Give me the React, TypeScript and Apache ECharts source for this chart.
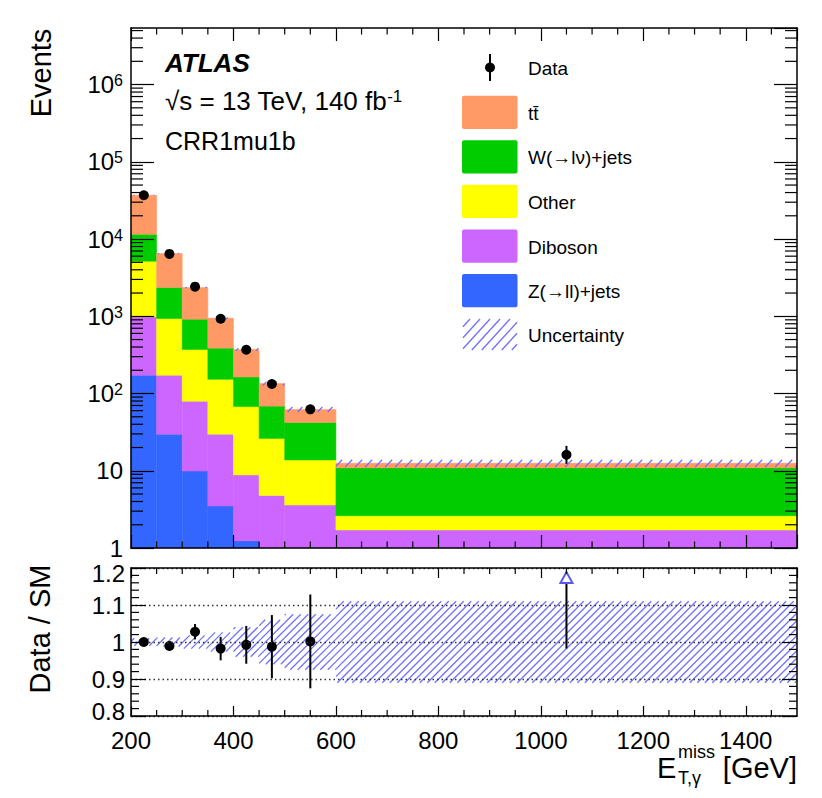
import React, { useEffect, useRef } from "react";
import * as echarts from "echarts";

// ---------------- data ----------------
const binEdges = [200, 250, 300, 350, 400, 450, 500, 600, 1500];
const zJets = [173, 29.8, 9.9, 3.5, 1.24, 0.9, 0.6, 0.3];
const diboson = [809, 143, 69.8, 26.3, 7.6, 3.9, 3.0, 1.41];
const otherBkg = [4178, 763, 292, 123, 59, 21.4, 10.2, 0.91];
const wJets = [6340, 1419, 545, 234, 96, 42.5, 28.5, 8.3];
const ttbar = [25400, 4135, 1438, 558, 208, 66, 20, 1.6];
const dataVals = [36900, 6420, 2420, 928, 369, 133, 62.4, 16.1];
const dataErrLo = [192, 80, 49, 30, 19, 11.5, 7.9, 3.8];
const dataErrHi = [192, 80, 49, 30, 19, 11.5, 7.9, 4.9];
const relUnc = [0.01, 0.012, 0.018, 0.026, 0.04, 0.06, 0.075, 0.11];

const compNames = ["Z(→ll)+jets", "Diboson", "Other", "W(→lν)+jets", "tt\u0304"];
const compColors = ["#3366FF", "#CC66FF", "#FFFF00", "#00CC00", "#FF9966"];
const compValues = [zJets, diboson, otherBkg, wJets, ttbar];

const FONT = '"Liberation Sans", Arial, Helvetica, sans-serif';
const HATCH = "#6f6fff";

// axis limits
const mainYMin = 1;
const mainYMax = 5.4e6;
const ratioMin = 0.8;
const ratioMax = 1.2;

function hatchSegs(x0: number, y0: number, x1: number, y1: number, s: number, k: number) {
  const segs: number[][] = [];
  const umin = x0 + y0 / k;
  const umax = x1 + y1 / k;
  for (let c = Math.ceil(umin / s) * s; c <= umax; c += s) {
    const xa = Math.max(x0, c - y1 / k);
    const xb = Math.min(x1, c - y0 / k);
    if (xb - xa > 0.3) segs.push([xa, k * (c - xa), xb, k * (c - xb)]);
  }
  return segs;
}

function txt(x: number, y: number, text: string, size: number, extra: any = {}) {
  const { align = "left", vAlign = "middle", rotation, weight, italic, rich } = extra;
  const el: any = {
    type: "text",
    x,
    y,
    z: 20,
    style: {
      text,
      fontSize: size,
      fontFamily: FONT,
      fontWeight: weight || "normal",
      fontStyle: italic ? "italic" : "normal",
      fill: "#000",
      textAlign: align,
      textVerticalAlign: vAlign,
      align,
      verticalAlign: vAlign,
    },
  };
  if (rich) el.style.rich = rich;
  if (rotation) el.rotation = rotation;
  return el;
}

export default function App() {
  const ref = useRef<HTMLDivElement>(null);

  useEffect(() => {
    const chart = echarts.init(ref.current!, null, { renderer: "svg" });
    const nb = dataVals.length;
    const centers = binEdges.slice(0, -1).map((e, i) => (e + binEdges[i + 1]) / 2);

    // stacked fills
    const cum = new Array(nb).fill(0);
    const stackSeries = compValues.map((vals, ci) => {
      const items = vals.map((v, i) => {
        const lo = cum[i];
        cum[i] += v;
        return [binEdges[i], binEdges[i + 1], lo > 0 ? lo : 1e-3, cum[i]];
      });
      const color = compColors[ci];
      return {
        type: "custom",
        name: compNames[ci],
        xAxisIndex: 0,
        yAxisIndex: 0,
        z: 2,
        encode: { x: [0, 1], y: [2, 3] },
        data: items,
        renderItem: (params: any, api: any) => {
          const cs = params.coordSys;
          const p0 = api.coord([api.value(0), api.value(3)]);
          const p1 = api.coord([api.value(1), api.value(2)]);
          const yTop = Math.max(p0[1], cs.y);
          const yBot = Math.min(p1[1], cs.y + cs.height);
          if (!(yBot > yTop)) return { type: "group", children: [] };
          return {
            type: "rect",
            shape: { x: p0[0], y: yTop, width: p1[0] - p0[0], height: yBot - yTop },
            style: { fill: color, stroke: color, lineWidth: 0.5 },
          };
        },
      };
    });
    const totals = cum.slice();

    const hatchRender = (s: number, k: number, w: number) => (params: any, api: any) => {
      const cs = params.coordSys;
      const p0 = api.coord([api.value(0), api.value(3)]);
      const p1 = api.coord([api.value(1), api.value(2)]);
      const x0 = Math.max(p0[0], cs.x);
      const x1 = Math.min(p1[0], cs.x + cs.width);
      const y0 = Math.max(p0[1], cs.y);
      const y1 = Math.min(p1[1], cs.y + cs.height);
      const segs = hatchSegs(x0, y0, x1, y1, s, k);
      return {
        type: "group",
        children: segs.map((g) => ({
          type: "line",
          shape: { x1: g[0], y1: g[1], x2: g[2], y2: g[3] },
          style: { stroke: HATCH, lineWidth: w },
        })),
      };
    };

    const uncMain = totals.map((t, i) => [binEdges[i], binEdges[i + 1], t * (1 - relUnc[i]), t * (1 + relUnc[i])]);
    const uncRatio = totals.map((t, i) => [binEdges[i], binEdges[i + 1], 1 - relUnc[i], 1 + relUnc[i]]);

    const dataMain = dataVals.map((v, i) => [centers[i], v, v - dataErrLo[i], v + dataErrHi[i]]);
    const dataRatio = dataVals.map((v, i) => [
      centers[i],
      v / totals[i],
      (v - dataErrLo[i]) / totals[i],
      (v + dataErrHi[i]) / totals[i],
    ]);

    const pointRender = (params: any, api: any) => {
      const cs = params.coordSys;
      const c = api.coord([api.value(0), api.value(1)]);
      const lo = api.coord([api.value(0), api.value(2)]);
      const hi = api.coord([api.value(0), api.value(3)]);
      const top = cs.y;
      const bottom = cs.y + cs.height;
      const children: any[] = [];
      if (c[1] < top) {
        // off-scale point: arrow
        const yl = Math.min(lo[1], bottom);
        children.push({
          type: "line",
          shape: { x1: c[0], y1: yl, x2: c[0], y2: top + 4 },
          style: { stroke: "#000", lineWidth: 2 },
        });
        children.push({
          type: "polygon",
          shape: { points: [[c[0], top + 4], [c[0] - 6, top + 15], [c[0] + 6, top + 15]] },
          style: { fill: "#fff", stroke: "#5a5af0", lineWidth: 2 },
        });
      } else {
        children.push({
          type: "line",
          shape: { x1: c[0], y1: Math.min(lo[1], bottom), x2: c[0], y2: Math.max(hi[1], top) },
          style: { stroke: "#000", lineWidth: 2 },
        });
        children.push({ type: "circle", shape: { cx: c[0], cy: c[1], r: 5 }, style: { fill: "#000" } });
      }
      return { type: "group", children };
    };

    // minor tick positions (axis decoration)
    const xMinor: number[] = [];
    for (let v = 250; v < 1500; v += 50) if (v % 200 !== 0) xMinor.push(v);
    const yMinorLog: number[] = [];
    for (let e = 0; e <= 6; e++) for (let m = 2; m <= 9; m++) {
      const v = m * Math.pow(10, e);
      if (v < mainYMax) yMinorLog.push(v);
    }
    const yMinorRatio: number[] = [];
    for (let j = 41; j < 60; j++) if (j % 5 !== 0) yMinorRatio.push(j / 50);

    const minorRender = (xs: number[], ys: number[], lx: number, ly: number, yRef: number) => (params: any, api: any) => {
      const cs = params.coordSys;
      const L = cs.x, R = cs.x + cs.width, T = cs.y, B = cs.y + cs.height;
      const children: any[] = [];
      const st = { stroke: "#000", lineWidth: 1.2 };
      xs.forEach((v) => {
        const px = api.coord([v, yRef])[0];
        children.push({ type: "line", shape: { x1: px, y1: B, x2: px, y2: B - lx }, style: st });
        children.push({ type: "line", shape: { x1: px, y1: T, x2: px, y2: T + lx }, style: st });
      });
      ys.forEach((v) => {
        const py = api.coord([300, v])[1];
        children.push({ type: "line", shape: { x1: L, y1: py, x2: L + ly, y2: py }, style: st });
        children.push({ type: "line", shape: { x1: R, y1: py, x2: R - ly, y2: py }, style: st });
      });
      return { type: "group", children };
    };

    const axisLineStyle = { color: "#000", width: 1.5 };
    const tickStyle = { color: "#000", width: 1.2 };

    const xAx = (grid: number, pos: string, len: number, labels: boolean) => ({
      gridIndex: grid,
      type: "value",
      min: 200,
      max: 1500,
      interval: 200,
      position: pos,
      z: 5,
      axisLine: { show: true, onZero: false, lineStyle: axisLineStyle },
      axisTick: { show: true, inside: true, length: len, lineStyle: tickStyle },
      axisLabel: labels
        ? {
            show: true,
            fontSize: 24,
            fontFamily: FONT,
            color: "#000",
            margin: 12,
            showMaxLabel: false,
            formatter: (v: number) => String(Math.round(v)),
          }
        : { show: false },
      splitLine: { show: false },
    });

    const logRich = {
      b: { fontSize: 24, fontFamily: FONT, color: "#000" },
      s: { fontSize: 16, fontFamily: FONT, color: "#000", verticalAlign: "top" },
    };
    const logFmt = (v: number) => {
      const e = Math.round(Math.log10(v));
      if (e === 0) return "1";
      if (e === 1) return "10";
      return `{b|10}{s|${e}}`;
    };
    const ratioRich = {
      t: { fontSize: 24, fontFamily: FONT, color: "#000", padding: [10, 0, 0, 0] },
      m: { fontSize: 24, fontFamily: FONT, color: "#000" },
      u: { fontSize: 24, fontFamily: FONT, color: "#000", padding: [0, 0, 10, 0] },
    };
    const ratioFmt = (v: number) => {
      const r = Math.round(v * 10) / 10;
      const s = r === 1 ? "1" : r.toFixed(1);
      if (r >= ratioMax - 1e-9) return `{t|${s}}`;
      if (r <= ratioMin + 1e-9) return `{u|${s}}`;
      return `{m|${s}}`;
    };

    const yMainAx = (pos: string, labels: boolean) => ({
      gridIndex: 0,
      type: "log",
      logBase: 10,
      min: mainYMin,
      max: mainYMax,
      position: pos,
      z: 5,
      axisLine: { show: true, onZero: false, lineStyle: axisLineStyle },
      axisTick: { show: true, inside: true, length: 23, lineStyle: tickStyle },
      axisLabel: labels
        ? { show: true, formatter: logFmt, rich: logRich, fontSize: 24, fontFamily: FONT, color: "#000", margin: 8, showMaxLabel: false }
        : { show: false },
      splitLine: { show: false },
    });
    const yRatioAx = (pos: string, labels: boolean) => ({
      gridIndex: 1,
      type: "value",
      min: ratioMin,
      max: ratioMax,
      interval: 0.1,
      position: pos,
      z: 5,
      axisLine: { show: true, onZero: false, lineStyle: axisLineStyle },
      axisTick: { show: true, inside: true, length: 15, lineStyle: tickStyle },
      axisLabel: labels
        ? { show: true, formatter: ratioFmt, rich: ratioRich, fontSize: 24, fontFamily: FONT, color: "#000", margin: 6 }
        : { show: false },
      splitLine: labels
        ? { show: true, lineStyle: { color: "#333", width: 1.3, type: [1.5, 3] } }
        : { show: false },
    });

    // ---------------- legend & texts (graphic) ----------------
    const graphics: any[] = [];
    const legX = 462, legW = 55.5, legH = 33.3;
    const legTops = [95.7, 140.2, 184.8, 229.4, 274.0];
    for (let j = 0; j < 5; j++) {
      const ci = 4 - j;
      graphics.push({
        type: "rect",
        z: 20,
        shape: { x: legX, y: legTops[j], width: legW, height: legH, r: 2 },
        style: { fill: compColors[ci] },
      });
      graphics.push(txt(528, legTops[j] + legH / 2 + 1, compNames[ci], 19));
    }
    // data legend
    graphics.push({ type: "line", z: 20, shape: { x1: 490, y1: 54, x2: 490, y2: 81 }, style: { stroke: "#000", lineWidth: 2 } });
    graphics.push({ type: "circle", z: 20, shape: { cx: 490, cy: 67.5, r: 5 }, style: { fill: "#000" } });
    graphics.push(txt(528, 68, "Data", 19));
    // uncertainty legend
    hatchSegs(463, 319, 517, 350, 10, 1.1).forEach((g) =>
      graphics.push({ type: "line", z: 20, shape: { x1: g[0], y1: g[1], x2: g[2], y2: g[3] }, style: { stroke: HATCH, lineWidth: 1.3 } })
    );
    graphics.push(txt(528, 335, "Uncertainty", 19));

    // ATLAS label
    graphics.push(txt(165, 63, "ATLAS", 26, { weight: "bold", italic: true }));
    graphics.push(
      txt(165, 101, "{n|√s = 13 TeV, 140 fb}{s|-1}", 26, {
        rich: {
          n: { fontSize: 26, fontFamily: FONT, fill: "#000", color: "#000" },
          s: { fontSize: 17, fontFamily: FONT, fill: "#000", color: "#000", verticalAlign: "top" },
        },
      })
    );
    graphics.push(txt(165, 141, "CRR1mu1b", 25));

    // axis titles
    graphics.push(txt(41, 73, "Events", 29, { align: "center", rotation: Math.PI / 2 }));
    graphics.push(txt(40, 629, "Data / SM", 29, { align: "center", rotation: Math.PI / 2 }));
    graphics.push(txt(657, 767.5, "E", 29));
    graphics.push(txt(678, 752, "miss", 18));
    graphics.push(txt(678, 778, "T,γ", 18));
    graphics.push(txt(797, 767.5, "[GeV]", 29, { align: "right" }));

    const option: any = {
      animation: false,
      backgroundColor: "#fff",
      textStyle: { fontFamily: FONT },
      grid: [
        { left: 131, top: 28, width: 666, height: 520, outerBoundsMode: "none", containLabel: false },
        { left: 131, top: 568, width: 666, height: 148, outerBoundsMode: "none", containLabel: false },
      ],
      xAxis: [xAx(0, "bottom", 13, false), xAx(0, "top", 13, false), xAx(1, "bottom", 10, true), xAx(1, "top", 10, false)],
      yAxis: [yMainAx("left", true), yMainAx("right", false), yRatioAx("left", true), yRatioAx("right", false)],
      series: [
        ...stackSeries,
        {
          type: "custom",
          name: "Uncertainty",
          xAxisIndex: 0,
          yAxisIndex: 0,
          z: 3,
          encode: { x: [0, 1], y: [2, 3] },
          data: uncMain,
          renderItem: hatchRender(10, 1.05, 1.2),
        },
        {
          type: "custom",
          name: "Data",
          xAxisIndex: 0,
          yAxisIndex: 0,
          z: 4,
          encode: { x: 0, y: [1, 2, 3] },
          data: dataMain,
          renderItem: pointRender,
        },
        {
          type: "custom",
          name: "minorMain",
          xAxisIndex: 0,
          yAxisIndex: 0,
          z: 6,
          encode: { x: 0, y: 1 },
          data: [[300, 10]],
          renderItem: minorRender(xMinor, yMinorLog, 6.5, 12, 10),
        },
        {
          type: "custom",
          name: "UncertaintyRatio",
          xAxisIndex: 2,
          yAxisIndex: 2,
          z: 3,
          encode: { x: [0, 1], y: [2, 3] },
          data: uncRatio,
          renderItem: hatchRender(7.5, 1.0, 1.25),
        },
        {
          type: "custom",
          name: "DataRatio",
          xAxisIndex: 2,
          yAxisIndex: 2,
          z: 4,
          encode: { x: 0, y: [1, 2, 3] },
          data: dataRatio,
          renderItem: pointRender,
        },
        {
          type: "custom",
          name: "minorRatio",
          xAxisIndex: 2,
          yAxisIndex: 2,
          z: 6,
          encode: { x: 0, y: 1 },
          data: [[300, 1]],
          renderItem: minorRender(xMinor, yMinorRatio, 6, 8, 1),
        },
      ],
      graphic: graphics,
    };
    chart.setOption(option);
    return () => chart.dispose();
  }, []);

  return <div ref={ref} style={{ position: "absolute", left: 0, top: 0, width: 822, height: 798 }} />;
}
